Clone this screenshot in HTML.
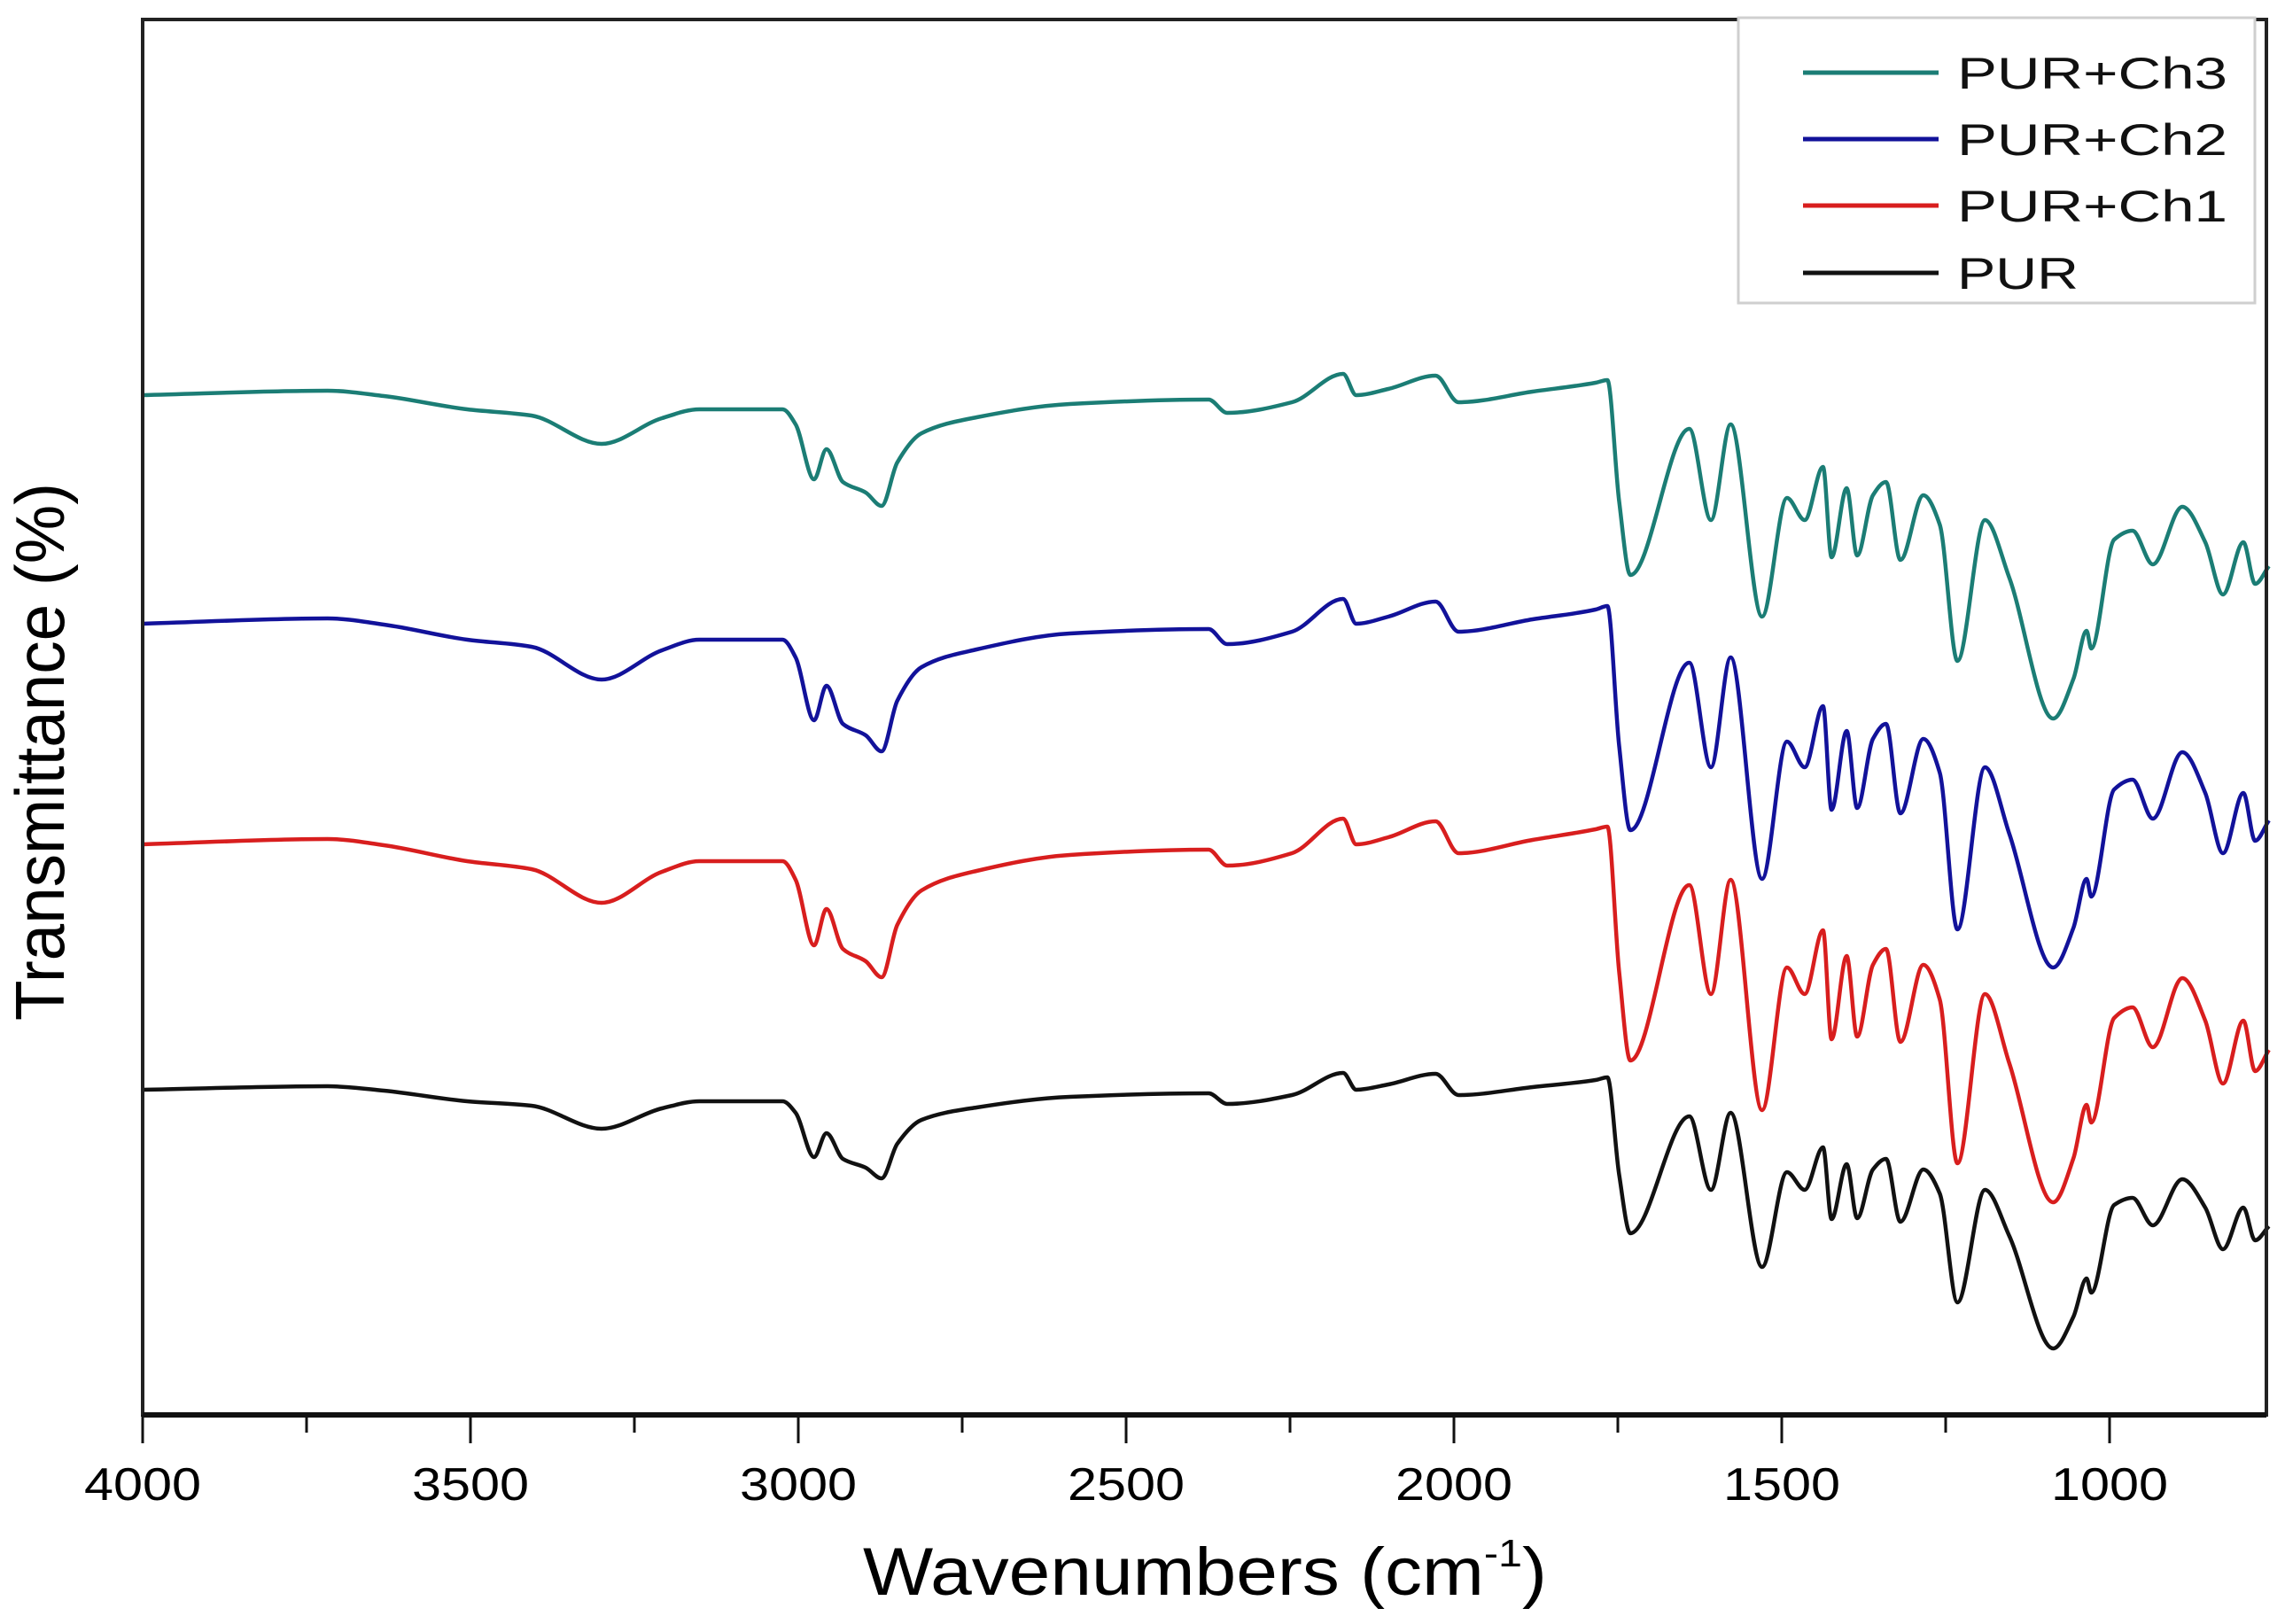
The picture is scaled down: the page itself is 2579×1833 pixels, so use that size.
<!DOCTYPE html>
<html><head><meta charset="utf-8"><style>
html,body{margin:0;padding:0;background:#fff;}
svg{display:block;font-family:"Liberation Sans",Arial,sans-serif;}
</style></head><body>
<svg id="chart" width="2579" height="1833" viewBox="0 0 2579 1833" xmlns="http://www.w3.org/2000/svg">
<rect x="0" y="0" width="2579" height="1833" fill="#fff"/>
<g id="series"></g>
<g id="axes"></g>
<g id="legend"></g>
<text x="974" y="1800" font-size="76" textLength="772" lengthAdjust="spacingAndGlyphs" fill="#000">Wavenumbers (cm<tspan dy="-32" font-size="44">-1</tspan><tspan dy="32">)</tspan></text>
<text x="0" y="0" font-size="78" textLength="607" lengthAdjust="spacingAndGlyphs" fill="#000" transform="translate(72,1152) rotate(-90)">Transmittance (%)</text>
</svg>
<script>
const wn = [4000,3718,3632,3505,3407,3300,3208,3151,3024,3004,2976,2957,2932,2897,2873,2849,2812,2728,2586,2374,2346,2247,2169,2149,2100,2028,1993,1880,1784,1766,1748,1731,1641,1608,1578,1530,1492,1465,1437,1424,1401,1385,1361,1341,1319,1284,1259,1232,1190,1153,1086,1055,1035,1028,993,965,934,889,854,827,796,778,757];
const ch3 = [115.1,115.6,115.0,113.5,112.8,109.6,112.5,113.5,113.5,111.8,105.6,109.0,105.3,104.1,102.6,107.5,110.8,112.6,114.1,114.6,113.1,114.3,117.5,115.1,115.8,117.3,114.3,115.5,116.5,116.8,103.1,94.8,111.3,101.0,111.8,90.1,103.5,101.0,107.0,96.8,104.6,97.0,103.8,105.3,96.5,103.8,100.5,85.1,101.0,94.5,78.6,83.1,88.5,86.5,98.8,99.8,96.0,102.5,98.5,92.6,98.5,93.8,95.8];
const ch2 = [89.3,89.9,89.2,87.5,86.7,83.0,86.3,87.5,87.5,85.5,78.4,82.3,78.0,76.7,74.9,80.6,84.4,86.4,88.2,88.7,87.0,88.4,92.1,89.3,90.1,91.8,88.4,89.8,90.9,91.3,75.5,66.0,84.9,73.1,85.5,60.5,76.0,73.1,80.0,68.3,77.2,68.5,76.3,78.0,67.9,76.3,72.5,54.8,73.1,65.6,50.5,55.0,60.5,58.5,70.6,71.7,67.3,74.8,70.2,63.4,70.2,64.8,67.1];
const ch1 = [64.4,65.0,64.3,62.5,61.6,57.8,61.3,62.5,62.5,60.4,53.0,57.1,52.6,51.2,49.4,55.3,59.2,61.4,63.2,63.8,62.0,63.4,67.3,64.4,65.2,67.0,63.4,64.9,66.1,66.4,50.0,40.0,59.8,47.5,60.4,34.4,50.5,47.5,54.7,42.4,51.8,42.7,50.8,52.6,42.1,50.8,46.9,28.4,47.5,39.7,24.0,29.0,35.0,33.0,44.8,46.0,41.5,49.3,44.5,37.4,44.5,38.8,41.2];
const pur = [36.7,37.1,36.6,35.4,34.9,32.3,34.6,35.4,35.4,34.1,29.1,31.8,28.9,27.9,26.7,30.6,33.3,34.7,35.9,36.3,35.1,36.1,38.6,36.7,37.3,38.5,36.1,37.0,37.8,38.1,27.1,20.5,33.7,25.4,34.1,16.7,27.4,25.4,30.2,22.1,28.3,22.2,27.7,28.9,21.8,27.7,25.0,12.7,25.4,20.2,7.5,11.1,15.4,13.8,23.7,24.5,21.4,26.6,23.4,18.7,23.4,19.7,21.3];
const seriesNames = ["PUR+Ch3","PUR+Ch2","PUR+Ch1","PUR"];
const seriesColors = ["#1b7d75","#12129a","#d81e1e","#111111"];
const xTicks = [4000,3500,3000,2500,2000,1500,1000];
const xMinorTicks = [3750,3250,2750,2250,1750,1250,750];

const NS = "http://www.w3.org/2000/svg";
const L = 161, R = 2558, T = 22, B = 1597;
const xMax = 4000;
function xs(w){ return L + (xMax - w) * 0.74; }
function ys(v){ return B - v * 10; }
function mk(tag, attrs, parent){ const e = document.createElementNS(NS, tag); for (const k in attrs) e.setAttribute(k, attrs[k]); parent.appendChild(e); return e; }

function monotonePath(px, py){
  const n = px.length, m = new Array(n), s = [];
  for (let i = 0; i < n - 1; i++) s.push((py[i+1] - py[i]) / (px[i+1] - px[i]));
  m[0] = s[0]; m[n-1] = s[n-2];
  for (let i = 1; i < n - 1; i++) {
    if (s[i-1] * s[i] <= 0) m[i] = 0;
    else {
      const h0 = px[i] - px[i-1], h1 = px[i+1] - px[i];
      const w1 = 2*h1 + h0, w2 = h1 + 2*h0;
      m[i] = (w1 + w2) / (w1 / s[i-1] + w2 / s[i]);
    }
  }
  let d = 'M' + px[0].toFixed(1) + ',' + py[0].toFixed(1);
  for (let i = 0; i < n - 1; i++) {
    const h = (px[i+1] - px[i]) / 3;
    d += ' C' + (px[i] + h).toFixed(1) + ',' + (py[i] + m[i]*h).toFixed(1) + ' ' +
         (px[i+1] - h).toFixed(1) + ',' + (py[i+1] - m[i+1]*h).toFixed(1) + ' ' +
         px[i+1].toFixed(1) + ',' + py[i+1].toFixed(1);
  }
  return d;
}

const sg = document.getElementById('series');
const data = [ch3, ch2, ch1, pur];
data.forEach((vals, i) => {
  const px = wn.map(w => xs(w)), py = vals.map(v => ys(v));
  const p = mk('path', {d: monotonePath(px, py), fill: 'none', stroke: seriesColors[i], 'stroke-width': 4.5, 'stroke-linejoin': 'round'}, sg);
  
  
});

const ag = document.getElementById('axes');
const frame = mk('rect', {x: L, y: T, width: R - L, height: B - T, fill: 'none', stroke: '#222', 'stroke-width': 4}, ag);


const bx = mk('line', {x1: L, x2: R, y1: B, y2: B, stroke: '#111', 'stroke-width': 6}, ag);


xTicks.forEach(t => {
  const ln = mk('line', {x1: xs(t), x2: xs(t), y1: B, y2: B + 32, stroke: '#111', 'stroke-width': 3}, ag);
  
  
  const tx = mk('text', {x: xs(t), y: 1693, 'font-size': 52, 'text-anchor': 'middle', textLength: 132, lengthAdjust: 'spacingAndGlyphs', fill: '#000'}, ag);
  tx.textContent = t;
  
  
});
xMinorTicks.forEach(t => {
  if (xs(t) > R + 1) return;
  const ln = mk('line', {x1: xs(t), x2: xs(t), y1: B, y2: B + 20, stroke: '#111', 'stroke-width': 3}, ag);
  
  
});

const lg = document.getElementById('legend');
const box = mk('rect', {x: 1962, y: 20, width: 583, height: 322, fill: '#fff', stroke: '#cfcfcf', 'stroke-width': 3}, lg);


const rowY = [82, 157, 232, 308];
seriesNames.forEach((n, i) => {
  const g = mk('g', {}, lg);
  
  
  mk('line', {x1: 2035, x2: 2188, y1: rowY[i], y2: rowY[i], stroke: seriesColors[i], 'stroke-width': 5}, g);
  const tx = mk('text', {x: 2209, y: rowY[i] + 18, 'font-size': 50, textLength: n === 'PUR' ? 137 : 305, lengthAdjust: 'spacingAndGlyphs', fill: '#111'}, g);
  tx.textContent = n;
});
</script>
</body></html>
